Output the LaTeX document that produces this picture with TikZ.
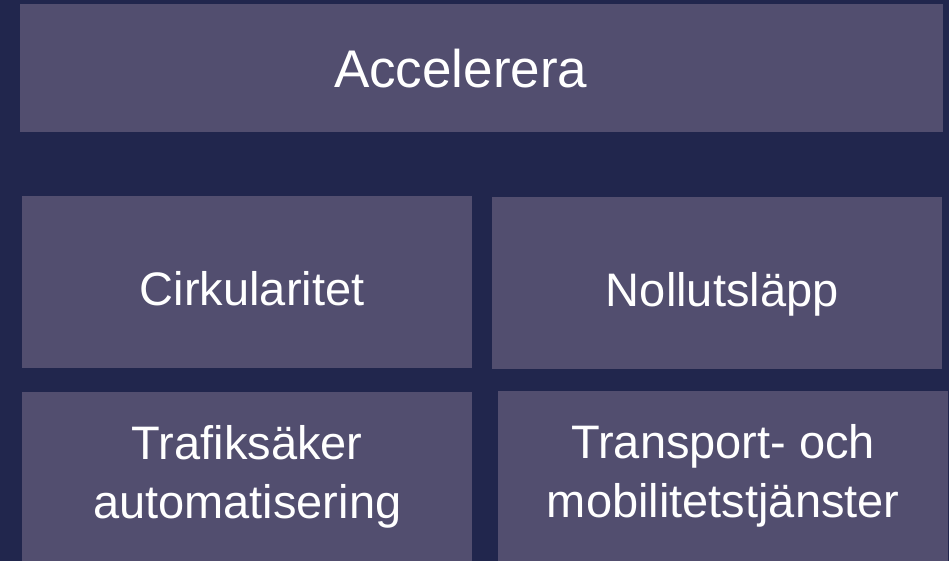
\documentclass[tikz,border=0pt]{standalone}
\usepackage{fontspec}
\setmainfont{Liberation Sans}
\usetikzlibrary{positioning}

\definecolor{navybg}{RGB}{33,38,77}
\definecolor{tilefill}{RGB}{82,78,111}

\begin{document}
\begin{tikzpicture}[x=1pt,y=-1pt,
    tile/.style={fill=tilefill,draw=none,anchor=north west,inner sep=0pt,
        align=center,text=white,font=\fontsize{47}{59}\selectfont,
        minimum width=450pt},
    bigtile/.style={tile,font=\fontsize{53}{60}\selectfont}]

    \fill[navybg] (0,0) rectangle (949,561);
    \useasboundingbox (0,0) rectangle (949,561);

    \node[bigtile,minimum width=923pt,minimum height=128pt] (accel) at (20,4) {Accelerera\hspace*{42pt}};

    \node[tile,minimum height=172pt] (cirk) at (22,196) {\hspace*{10pt}\raisebox{-6pt}[\height][\depth]{Cirkularitet}};
    \node[tile,minimum height=172pt] (noll) at (492,197) {\hspace*{10pt}\raisebox{-11pt}[\height][\depth]{Nollutsläpp}};

    \node[tile,minimum height=169pt] (trafik) at (22,392) {Trafiksäker\\automatisering};
    \node[tile,minimum height=170pt] (transp) at (498,391) {Transport- och\\mobilitetstjänster};

\end{tikzpicture}
\end{document}
